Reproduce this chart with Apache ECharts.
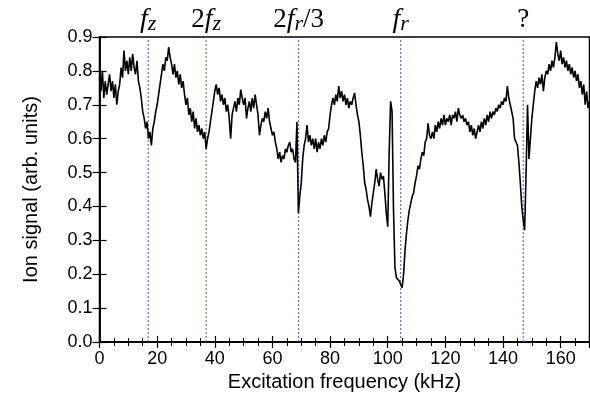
<!DOCTYPE html>
<html>
<head>
<meta charset="utf-8">
<script src="https://cdn.jsdelivr.net/npm/echarts@6/dist/echarts.min.js"></script>
<style>html,body{margin:0;padding:0;background:#fff}#c{width:590px;height:398px}</style>
</head>
<body>
<div id="c"></div>
<script>
// Excitation frequency grid: 0 to 170 kHz, step 0.5 kHz
var freqStart = 0, freqStep = 0.5;
// Ion signal values (arb. units), one array per 10 kHz
var s000 = [0.78,0.74,0.80,0.72,0.77,0.73,0.76,0.79,0.74,0.77,0.72,0.76,0.70,0.74,0.76,0.81,0.78,0.86,0.80,0.83];
var s010 = [0.79,0.84,0.80,0.85,0.81,0.79,0.83,0.77,0.75,0.72,0.68,0.66,0.63,0.65,0.60,0.62,0.58,0.63,0.65,0.68];
var s020 = [0.70,0.73,0.76,0.79,0.82,0.80,0.84,0.83,0.87,0.84,0.82,0.79,0.82,0.78,0.80,0.76,0.79,0.75,0.77,0.73];
var s030 = [0.70,0.72,0.67,0.69,0.65,0.68,0.63,0.66,0.62,0.64,0.61,0.63,0.60,0.62,0.57,0.60,0.62,0.65,0.68,0.71];
var s040 = [0.74,0.76,0.73,0.75,0.71,0.73,0.70,0.72,0.68,0.70,0.66,0.60,0.67,0.69,0.71,0.68,0.72,0.70,0.745,0.72];
var s050 = [0.70,0.72,0.66,0.69,0.71,0.68,0.72,0.69,0.73,0.70,0.67,0.61,0.64,0.66,0.65,0.68,0.66,0.69,0.65,0.63];
var s060 = [0.61,0.62,0.59,0.57,0.54,0.56,0.53,0.55,0.54,0.57,0.56,0.58,0.59,0.56,0.57,0.54,0.53,0.65,0.38,0.43];
var s070 = [0.47,0.54,0.58,0.60,0.64,0.59,0.61,0.58,0.60,0.57,0.60,0.56,0.59,0.57,0.60,0.58,0.61,0.59,0.62,0.63];
var s080 = [0.67,0.70,0.72,0.70,0.73,0.71,0.755,0.72,0.74,0.71,0.73,0.70,0.72,0.69,0.71,0.70,0.72,0.735,0.70,0.67];
var s090 = [0.65,0.61,0.56,0.52,0.47,0.45,0.42,0.40,0.37,0.41,0.44,0.47,0.51,0.48,0.46,0.50,0.48,0.49,0.44,0.38];
var s100 = [0.34,0.56,0.71,0.68,0.39,0.22,0.19,0.19,0.18,0.17,0.16,0.20,0.27,0.32,0.36,0.39,0.41,0.43,0.44,0.47];
var s110 = [0.49,0.52,0.51,0.54,0.56,0.55,0.59,0.60,0.645,0.61,0.60,0.62,0.60,0.64,0.62,0.65,0.63,0.66,0.64,0.67];
var s120 = [0.64,0.66,0.65,0.67,0.64,0.67,0.66,0.68,0.65,0.69,0.67,0.66,0.67,0.65,0.66,0.64,0.65,0.62,0.64,0.61];
var s130 = [0.63,0.60,0.62,0.64,0.62,0.65,0.63,0.66,0.64,0.67,0.65,0.68,0.66,0.68,0.67,0.69,0.68,0.70,0.69,0.71];
var s140 = [0.70,0.72,0.71,0.755,0.72,0.70,0.70,0.66,0.60,0.59,0.58,0.53,0.47,0.40,0.36,0.33,0.50,0.70,0.54,0.60];
var s150 = [0.66,0.70,0.74,0.77,0.75,0.78,0.76,0.79,0.74,0.78,0.80,0.79,0.82,0.80,0.83,0.81,0.84,0.885,0.85,0.83];
var s160 = [0.86,0.82,0.84,0.81,0.83,0.80,0.82,0.79,0.81,0.78,0.80,0.77,0.79,0.75,0.77,0.73,0.76,0.70,0.74,0.69,0.71];

// Marked frequencies (kHz) and their labels
var markerFreqs = [16.9, 37.0, 69.1, 104.5, 147.0];
var markerLabels = ['{i|f}{s|z}', '{n|2}{i|f}{s|z}', '{n|2}{i|f}{s|r}{n|/3}', '{i|f}{s|r}', '{n|?}'];

var yTicks = ['0.0','0.1','0.2','0.3','0.4','0.5','0.6','0.7','0.8','0.9'];

var signal = [].concat(s000,s010,s020,s030,s040,s050,s060,s070,s080,s090,s100,s110,s120,s130,s140,s150,s160);
var data = signal.map(function (v, i) { return [freqStart + i * freqStep, v]; });

var sans = 'Liberation Sans, Arial, sans-serif';
var serif = 'Liberation Serif, Times New Roman, serif';
var markColor = '#3a4dff';

var chart = echarts.init(document.getElementById('c'), null, {renderer: 'canvas'});
var xBase = {
  type: 'value', min: 0, max: 170, interval: 20, position: 'bottom', gridIndex: 0,
  splitLine: {show: false},
  axisLine: {show: true, lineStyle: {color: '#000', width: 1.5}}
};
var yBase = {
  type: 'value', min: 0, max: 0.9, interval: 0.1, position: 'left', gridIndex: 0,
  splitLine: {show: false},
  axisLine: {show: true, lineStyle: {color: '#000', width: 1.5}}
};

// vertical marker lines as small line series through the axes
var markerSeries = markerFreqs.map(function (f, k) {
  return {
    type: 'line', xAxisIndex: 0, yAxisIndex: 0, z: 1, silent: true,
    data: [[f, 0], [f, 0.9]], showSymbol: false, symbol: 'none',
    lineStyle: {color: markColor, width: 1, type: [2, 2]},
    endLabel: {
      show: true, formatter: markerLabels[k], color: '#000',
      align: 'center', verticalAlign: 'bottom', offset: [0, -2], distance: 0,
      rich: {
        n: {fontFamily: serif, fontSize: 27, lineHeight: 30, color: '#000'},
        i: {fontFamily: serif, fontSize: 28, fontStyle: 'italic', lineHeight: 30, color: '#000'},
        s: {fontFamily: serif, fontSize: 22, fontStyle: 'italic', lineHeight: 20, verticalAlign: 'bottom', color: '#000'}
      }
    }
  };
});

chart.setOption({
  animation: false,
  backgroundColor: '#fff',
  grid: {left: 99.5, right: 0.5, top: 37, bottom: 56, show: true, borderColor: '#000', borderWidth: 1.5},
  xAxis: [
    Object.assign({}, xBase, {
      name: 'Excitation frequency (kHz)', nameLocation: 'middle', nameGap: 29,
      nameTextStyle: {fontFamily: sans, fontSize: 20, color: '#000'},
      axisTick: {show: true, inside: false, length: 6, lineStyle: {color: '#000', width: 1.2}},
      minorTick: {show: true, splitNumber: 4, length: 4, lineStyle: {color: '#000', width: 1}},
      axisLabel: {fontFamily: sans, fontSize: 18, color: '#000', margin: 8}
    }),
    Object.assign({}, xBase, {
      axisTick: {show: true, inside: true, length: 6, lineStyle: {color: '#000', width: 1.2}},
      minorTick: {show: true, splitNumber: 4, length: 4, lineStyle: {color: '#000', width: 1}},
      axisLabel: {show: false}
    })
  ],
  yAxis: [
    Object.assign({}, yBase, {
      name: 'Ion signal (arb. units)', nameLocation: 'middle', nameGap: 58,
      nameTextStyle: {fontFamily: sans, fontSize: 20, color: '#000'},
      axisTick: {show: true, inside: false, length: 7, lineStyle: {color: '#000', width: 1.2}},
      axisLabel: {fontFamily: sans, fontSize: 18, color: '#000', margin: 7,
        formatter: function (v) { return yTicks[Math.round(v * 10)]; }}
    }),
    Object.assign({}, yBase, {
      axisTick: {show: true, inside: true, length: 7, lineStyle: {color: '#000', width: 1.2}},
      axisLabel: {show: false}
    })
  ],
  series: [{
    type: 'line', xAxisIndex: 0, yAxisIndex: 0, z: 3,
    data: data, showSymbol: false, symbol: 'none',
    lineStyle: {color: '#000', width: 1.6}
  }].concat(markerSeries)
});
</script>
</body>
</html>
